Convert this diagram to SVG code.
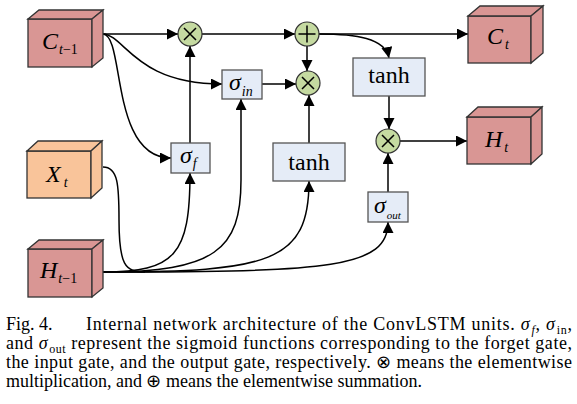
<svg xmlns="http://www.w3.org/2000/svg" width="577" height="404" viewBox="0 0 577 404">
<defs>
<marker id="ah" markerUnits="userSpaceOnUse" markerWidth="12" markerHeight="12" refX="11" refY="5.5" orient="auto">
<path d="M0,0 L11,5.5 L0,11 z" fill="#000"/>
</marker>
</defs>
<style>
text{font-family:'Liberation Serif','Times New Roman',Times,serif}
.cube{fill:#d99694;stroke:#333;stroke-width:1.3}
.cubex{fill:#f9c49a;stroke:#333;stroke-width:1.3}
.box{fill:#e5ecf7;stroke:#555;stroke-width:1.3}
.op{fill:#c5daa1;stroke:#333;stroke-width:1.2}
.sym{stroke:#000;stroke-width:1.5;fill:none}
.c{fill:none;stroke:#000;stroke-width:1.5}
.a{marker-end:url(#ah)}
.lbl{font-style:italic;font-size:24px;fill:#000}
.sub{font-size:14px}
.up{font-style:normal}
.tanh{font-size:24px;fill:#000;text-anchor:middle}
.cap{font-size:18px;fill:#000}
.it{font-style:italic}
</style>

<g id="connectors">
<path class="c a" d="M103,34 H178"/>
<path class="c a" d="M202,34 H295"/>
<path class="c a" d="M319,34 H468"/>
<path class="c a" d="M319,34 C356,34 385,38 389,58"/>
<path class="c a" d="M307,46 V71"/>
<path class="c a" d="M262,84 H296"/>
<path class="c a" d="M309,143 V95"/>
<path class="c a" d="M190,143 V46"/>
<path class="c a" d="M103,34 C125,35 135,84 222,84"/>
<path class="c a" d="M103,34 C125,35 110,158 171,158"/>
<path class="c a" d="M389,96 V129"/>
<path class="c a" d="M388,192 V153"/>
<path class="c a" d="M400,141 H467"/>
<path class="c" d="M103,167 C118,167 119,185 119,220 C119,265 125,272 145,272"/>
<path class="c a" d="M103,272 C175,272 190,255 190,173"/>
<path class="c a" d="M103,272 C215,272 241,250 241,180 L241,99"/>
<path class="c a" d="M103,272 C270,272 309,262 309,181"/>
<path class="c a" d="M103,272 C330,272 388,268 388,222"/>
</g>

<g id="C_prev">
<rect class="cube" x="28" y="19" width="64" height="48"/>
<polygon class="cube" points="28,19 39,10 103,10 92,19"/>
<polygon class="cube" points="92,19 103,10 103,58 92,67"/>
<text class="lbl" x="42" y="49">C<tspan class="sub" dy="5" dx="1">t</tspan><tspan class="sub up">−1</tspan></text>
</g>

<g id="X_t">
<rect class="cubex" x="27" y="151" width="64" height="47"/>
<polygon class="cubex" points="27,151 38,141 102,141 91,151"/>
<polygon class="cubex" points="91,151 102,141 102,188 91,198"/>
<text class="lbl" x="46" y="182">X<tspan class="sub" dy="5" dx="3">t</tspan></text>
</g>

<g id="H_prev">
<rect class="cube" x="28" y="249" width="64" height="48"/>
<polygon class="cube" points="28,249 39,240 103,240 92,249"/>
<polygon class="cube" points="92,249 103,240 103,288 92,297"/>
<text class="lbl" x="40" y="278">H<tspan class="sub" dy="5" dx="1">t</tspan><tspan class="sub up">−1</tspan></text>
</g>

<g id="C_t">
<rect class="cube" x="468" y="16" width="63" height="47"/>
<polygon class="cube" points="468,16 480,6 543,6 531,16"/>
<polygon class="cube" points="531,16 543,6 543,53 531,63"/>
<text class="lbl" x="487" y="44">C<tspan class="sub" dy="5" dx="2">t</tspan></text>
</g>

<g id="H_t">
<rect class="cube" x="467" y="117" width="64" height="47"/>
<polygon class="cube" points="467,117 478,107 542,107 531,117"/>
<polygon class="cube" points="531,117 542,107 542,154 531,164"/>
<text class="lbl" x="485" y="147">H<tspan class="sub" dy="5" dx="2">t</tspan></text>
</g>

<g id="mul1">
<circle class="op" cx="190" cy="34" r="12"/>
<path class="sym" d="M184,28 L196,40 M196,28 L184,40"/>
</g>
<g id="plus">
<circle class="op" cx="307" cy="34" r="12"/>
<path class="sym" d="M298.5,34 H315.5 M307,25.5 V42.5"/>
</g>
<g id="mul2">
<circle class="op" cx="308" cy="83" r="12"/>
<path class="sym" d="M302,77 L314,89 M314,77 L302,89"/>
</g>
<g id="mul3">
<circle class="op" cx="388" cy="141" r="12"/>
<path class="sym" d="M382,135 L394,147 M394,135 L382,147"/>
</g>

<g id="sigma_in">
<rect class="box" x="222" y="70" width="40" height="29"/>
<text class="lbl" x="229" y="90">σ<tspan class="sub" dy="6" dx="1">in</tspan></text>
</g>
<g id="sigma_f">
<rect class="box" x="171" y="143" width="39" height="30"/>
<text class="lbl" x="180" y="163">σ<tspan class="sub" dy="5" dx="1">f</tspan></text>
</g>
<g id="sigma_out">
<rect class="box" x="368" y="192" width="40" height="30"/>
<text class="lbl" x="374" y="213">σ<tspan style="font-size:11px" dy="6" dx="1">out</tspan></text>
</g>
<g id="tanh_c">
<rect class="box" x="353" y="58" width="72" height="38"/>
<text class="tanh" x="389" y="83">tanh</text>
</g>
<g id="tanh_in">
<rect class="box" x="273" y="143" width="72" height="38"/>
<text class="tanh" x="309" y="170">tanh</text>
</g>

<g id="caption">
<text class="cap" x="6" y="330">Fig. 4.</text>
<text class="cap" x="86" y="330" textLength="486" lengthAdjust="spacing">Internal network architecture of the ConvLSTM units. <tspan class="it">σ</tspan><tspan class="it" font-size="12" dy="4" dx="1">f</tspan><tspan dy="-4">, </tspan><tspan class="it">σ</tspan><tspan font-size="12" dy="4" dx="1">in</tspan><tspan dy="-4">,</tspan></text>
<text class="cap" x="6" y="349" textLength="566" lengthAdjust="spacing">and <tspan class="it">σ</tspan><tspan font-size="12" dy="4" dx="1">out</tspan><tspan dy="-4"> represent the sigmoid functions corresponding to the forget gate,</tspan></text>
<text class="cap" x="6" y="368" textLength="566" lengthAdjust="spacing">the input gate, and the output gate, respectively. ⊗ means the elementwise</text>
<text class="cap" x="6" y="387">multiplication, and ⊕ means the elementwise summation.</text>
</g>
</svg>
